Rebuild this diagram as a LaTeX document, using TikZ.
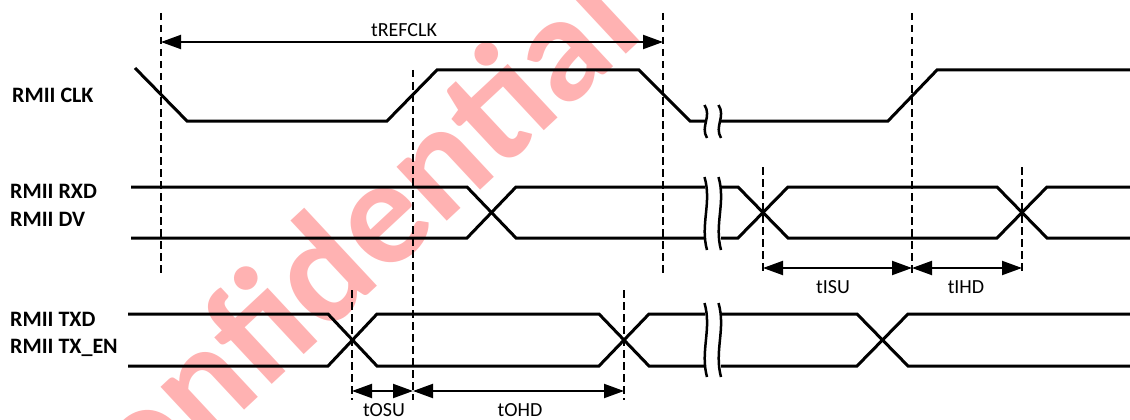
\documentclass[tikz,border=0pt]{standalone}
\usepackage{fontspec}
\setmainfont{Carlito}
\usetikzlibrary{arrows.meta}
\definecolor{wm}{RGB}{255,178,178}
\begin{document}
\begin{tikzpicture}[x=1pt,y=-1pt,
  wave/.style={line width=3pt, line join=miter},
  guide/.style={line width=1.8pt, dash pattern=on 7.5pt off 4.5pt},
  dim/.style={line width=2pt, {Triangle[length=20pt,width=14pt]}-{Triangle[length=20pt,width=14pt]}},
  brk/.style={line width=2.5pt},
  sig/.style={font=\fontsize{22}{26}\selectfont\bfseries, anchor=west, inner sep=0pt},
  tlab/.style={font=\fontsize{20}{24}\selectfont, inner sep=0pt},
]
\useasboundingbox (0,0) rectangle (1130,420);
% watermark
\begin{scope}
\clip (0,0) rectangle (1130,420);
\node[rotate=43, anchor=base, text=wm, inner sep=0pt, font=\fontsize{152}{160}\selectfont\bfseries] (wmark) at (366,297) {Confidential};
\end{scope}
% signal names
\node[sig] (clk) at (12,95) {RMII CLK};
\node[sig] (rxd) at (10,191) {RMII RXD};
\node[sig] (dv) at (10,219) {RMII DV};
\node[sig] (txd) at (10,319) {RMII TXD};
\node[sig] (txen) at (10,348) {RMII TX\_EN};
% guide coordinates
\coordinate (g1t) at (161,13);  \coordinate (g1b) at (161,275);
\coordinate (g2t) at (413,70);  \coordinate (g2b) at (413,400);
\coordinate (g3t) at (663,13);  \coordinate (g3b) at (663,275);
\coordinate (g4t) at (912,13);  \coordinate (g4b) at (912,275);
\coordinate (g5t) at (763,167); \coordinate (g5b) at (763,275);
\coordinate (g6t) at (1022,167);\coordinate (g6b) at (1022,275);
\coordinate (g7t) at (352,290); \coordinate (g7b) at (352,400);
\coordinate (g8t) at (624,290); \coordinate (g8b) at (624,400);
\foreach \i in {1,...,8} \draw[guide] (g\i t) -- (g\i b);
% CLK
\draw[wave] (135,68) -- (187,121) -- (387,121) -- (437,70) -- (639,70) -- (690,121) -- (705,121);
\draw[wave] (721,121) -- (888,121) -- (937,70) -- (1130,70);
% RXD / DV
\draw[wave] (131,187) -- (467,187) -- (516,238) -- (705,238);
\draw[wave] (131,238) -- (467,238) -- (516,187) -- (705,187);
\draw[wave] (721,187) -- (738,187) -- (788,238) -- (997,238) -- (1047,187) -- (1130,187);
\draw[wave] (721,238) -- (738,238) -- (788,187) -- (997,187) -- (1047,238) -- (1130,238);
% TXD / TX_EN
\draw[wave] (128,314) -- (328,314) -- (377,366) -- (599,366) -- (649,314) -- (705,314);
\draw[wave] (128,366) -- (328,366) -- (377,314) -- (599,314) -- (649,366) -- (705,366);
\draw[wave] (721,314) -- (857,314) -- (908,366) -- (1130,366);
\draw[wave] (721,366) -- (857,366) -- (908,314) -- (1130,314);
% break marks
\foreach \yt/\yb in {105/138, 177/250, 303/377}
  \foreach \x in {706,720}
    \draw[brk] (\x-1.5,\yt) .. controls (\x+6,\yt+0.35*\yb-0.35*\yt) and (\x-6,\yb-0.35*\yb+0.35*\yt) .. (\x+1,\yb);
% dimension arrows
\coordinate (a1) at (161,42);  \coordinate (a2) at (663,42);
\coordinate (b1) at (763,268); \coordinate (b2) at (912,268); \coordinate (b3) at (1022,268);
\coordinate (c1) at (352,391); \coordinate (c2) at (413,391); \coordinate (c3) at (624,391);
\draw[dim] (a1) -- (a2);
\draw[dim] (b1) -- (b2);
\draw[dim] (b2) -- (b3);
\draw[dim] (c1) -- (c2);
\draw[dim] (c2) -- (c3);
\node[tlab] (ltref) at (404,30) {tREFCLK};
\node[tlab] (ltisu) at (833,287) {tISU};
\node[tlab] (ltihd) at (966,287) {tIHD};
\node[tlab] (ltosu) at (384,410) {tOSU};
\node[tlab] (ltohd) at (520,410) {tOHD};
\end{tikzpicture}
\end{document}
